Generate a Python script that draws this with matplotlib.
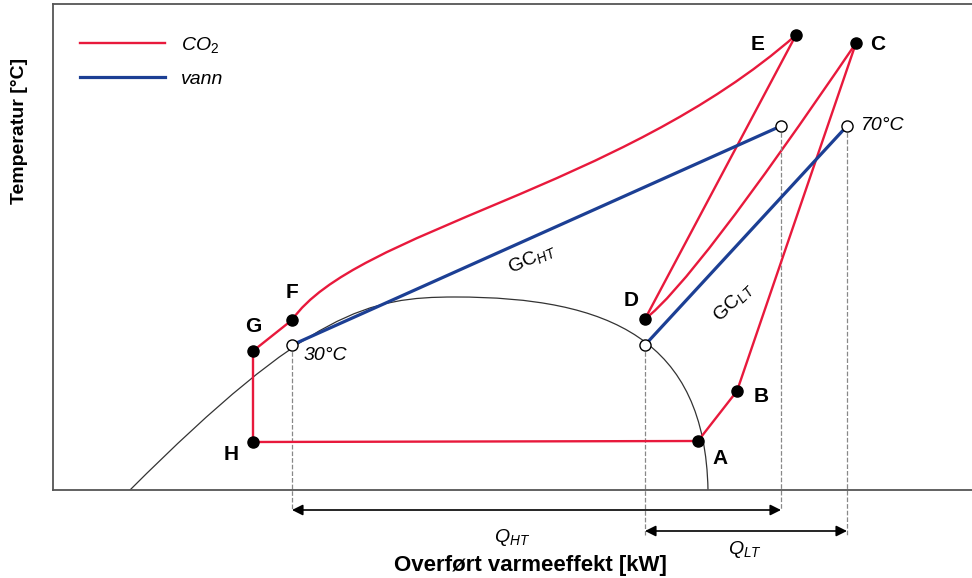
import matplotlib
matplotlib.use("Agg")
import matplotlib.pyplot as plt
from matplotlib.path import Path
from matplotlib.patches import PathPatch

plt.rcParams['font.family'] = ['Liberation Sans', 'DejaVu Sans']
plt.rcParams['mathtext.fontset'] = 'custom'
plt.rcParams['mathtext.rm'] = 'Liberation Sans'
plt.rcParams['mathtext.it'] = 'Liberation Sans:italic'

RED = '#e8193c'
BLUE = '#1c3f94'

# state points of the CO2 cycle (heat flow, temperature), arbitrary units
pt_names = ['A', 'B', 'C', 'D', 'E', 'F', 'G', 'H']
pt_x = [645, 684, 803, 592, 743, 239, 200, 200]
pt_y = [49, 99, 447, 171, 455, 170, 139, 48]

# water side, inlet/outlet of each gas cooler
water_ht_x = [239, 728]
water_ht_y = [145, 364]
water_lt_x = [592, 794]
water_lt_y = [145, 364]

# bezier control points for the curved parts
fe_x = [239, 302, 567, 743]          # gas cooler HT, F -> E
fe_y = [170, 260, 300, 455]
cd_x = [803, 640, 592]               # gas cooler LT, C -> D
cd_y = [447, 207, 171]
dome_x = [77, 257, 317, 402, 557, 652, 655]
dome_y = [0, 180, 193, 193, 193, 150, 0]

fig = plt.figure(figsize=(9.72, 5.78), dpi=100)
ax = fig.add_axes([53/972, 88/578, 919/972, 486/578])
ax.set_xlim(0, 919)
ax.set_ylim(0, 486)
ax.set_xticks([])
ax.set_yticks([])
ax.spines['right'].set_visible(False)
for s in ['left', 'top', 'bottom']:
    ax.spines[s].set_color('#555555')
    ax.spines[s].set_linewidth(1.3)

# saturation dome
dome = Path(list(zip(dome_x, dome_y)),
            [Path.MOVETO] + [Path.CURVE4] * 6)
ax.add_patch(PathPatch(dome, fill=False, color='#333333', lw=0.9))

P = dict(zip(pt_names, zip(pt_x, pt_y)))

def seg(a, b):
    ax.plot([P[a][0], P[b][0]], [P[a][1], P[b][1]], color=RED, lw=1.7,
            solid_capstyle='round')

# dashed guides down to the arrows
ax.plot([water_ht_x[0]] * 2, [water_ht_y[0], -20], ls='--', color='#888888',
        lw=0.9, clip_on=False)
ax.plot([water_ht_x[1]] * 2, [water_ht_y[1], -20], ls='--', color='#888888',
        lw=0.9, clip_on=False)
ax.plot([water_lt_x[0]] * 2, [water_lt_y[0], -45], ls='--', color='#888888',
        lw=0.9, clip_on=False)
ax.plot([water_lt_x[1]] * 2, [water_lt_y[1], -45], ls='--', color='#888888',
        lw=0.9, clip_on=False)

# CO2 cycle
seg('H', 'A')
seg('A', 'B')
seg('B', 'C')
seg('E', 'D')
seg('F', 'G')
seg('G', 'H')
fe = Path(list(zip(fe_x, fe_y)), [Path.MOVETO] + [Path.CURVE4] * 3)
ax.add_patch(PathPatch(fe, fill=False, color=RED, lw=1.7))
cd = Path(list(zip(cd_x, cd_y)), [Path.MOVETO] + [Path.CURVE3] * 2)
ax.add_patch(PathPatch(cd, fill=False, color=RED, lw=1.7))

# water lines
ax.plot(water_ht_x, water_ht_y, color=BLUE, lw=2.3)
ax.plot(water_lt_x, water_lt_y, color=BLUE, lw=2.3)
ax.plot(water_ht_x + water_lt_x, water_ht_y + water_lt_y, 'o', ms=8,
        mfc='white', mec='black', mew=1.0, zorder=5)

ax.plot(pt_x, pt_y, 'o', ms=8, color='black', zorder=5)

# point labels
lab_off = {'A': (22, -18), 'B': (24, -5), 'C': (22, -2), 'D': (-14, 19),
           'E': (-38, -10), 'F': (0, 27), 'G': (0, 24), 'H': (-22, -13)}
for n, x, y in zip(pt_names, pt_x, pt_y):
    dx, dy = lab_off[n]
    ax.text(x + dx, y + dy, n, fontsize=15, fontweight='bold',
            ha='center', va='center')

ax.text(water_ht_x[0] + 12, water_ht_y[0] - 10, '30°C', fontsize=14,
        style='italic', ha='left', va='center')
ax.text(water_lt_x[1] + 14, water_lt_y[1], '70°C', fontsize=14,
        style='italic', ha='left', va='center')
ax.text(479, 231, r'GC$_{HT}$', fontsize=14, rotation=24,
        ha='center', va='center')
ax.text(680, 188, r'GC$_{LT}$', fontsize=14, rotation=44,
        ha='center', va='center')

# heat duty arrows
ax.annotate('', xy=(water_ht_x[0], -20), xytext=(water_ht_x[1], -20),
            arrowprops=dict(arrowstyle='<|-|>', color='black', lw=1.2,
                            shrinkA=0, shrinkB=0, mutation_scale=16),
            annotation_clip=False)
ax.annotate('', xy=(water_lt_x[0], -41), xytext=(water_lt_x[1], -41),
            arrowprops=dict(arrowstyle='<|-|>', color='black', lw=1.2,
                            shrinkA=0, shrinkB=0, mutation_scale=16),
            annotation_clip=False)
ax.text(459, -47, r'$Q_{HT}$', fontsize=14, ha='center', va='center')
ax.text(692, -60, r'$Q_{LT}$', fontsize=14, ha='center', va='center')

# legend
ax.plot([], [], color=RED, lw=1.7, label=r'$CO_2$')
ax.plot([], [], color=BLUE, lw=2.3, label='vann')
leg = ax.legend(loc='upper left', bbox_to_anchor=(0.01, 0.973), frameon=False,
                handlelength=4.4, fontsize=14, labelspacing=0.8)
for t in leg.get_texts():
    t.set_style('italic')

fig.text(530/972, 1 - 566/578, 'Overført varmeeffekt [kW]', fontsize=16,
         fontweight='bold', ha='center', va='center')
fig.text(20/972, 1 - 131/578, 'Temperatur [°C]', fontsize=14,
         fontweight='bold', ha='center', va='center', rotation=90)

fig.savefig('out.png', dpi=100)
